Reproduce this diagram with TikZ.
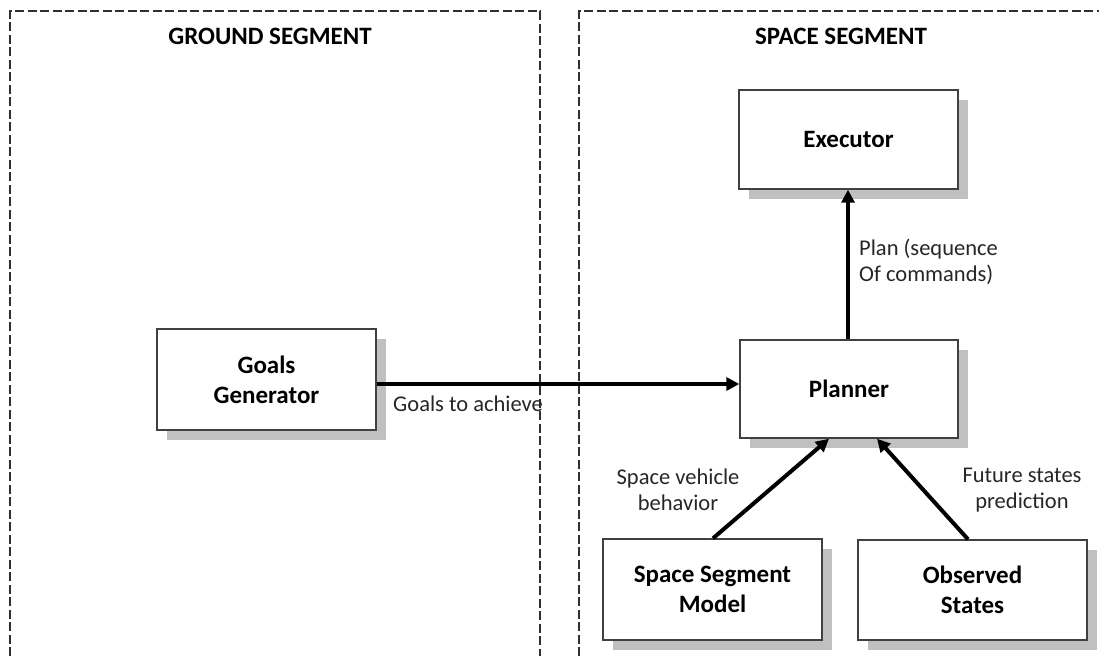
\documentclass[tikz,border=0pt]{standalone}
\usepackage{fontspec}
\setmainfont{Carlito}
\usetikzlibrary{arrows.meta,shadows}
\definecolor{boxline}{HTML}{404040}
\definecolor{shadowgray}{HTML}{C0C0C0}
\definecolor{labeltext}{HTML}{262626}
\definecolor{dashgray}{HTML}{303030}
\tikzset{
  blockbox/.style={draw=boxline, line width=1.4pt, fill=white, inner sep=0pt,
    align=center, font=\fontsize{25}{30}\selectfont\bfseries,
    drop shadow={shadow xshift=10pt, shadow yshift=-10pt, fill=shadowgray, opacity=1}},
  segtitle/.style={inner sep=0pt, font=\fontsize{25}{30}\selectfont\bfseries},
  edgelabel/.style={inner sep=0pt, text=labeltext, font=\fontsize{22.5}{26}\selectfont},
  segborder/.style={draw=dashgray, line width=1.3pt, dash pattern=on 9pt off 3.5pt},
  flow/.style={line width=4pt, -{Triangle[length=13pt,width=13pt]}}
}
\begin{document}
\begin{tikzpicture}[x=1pt,y=-1pt]
\useasboundingbox (0,0) rectangle (1099,656);
% segment frames
\coordinate (gbl) at (10,656);
\coordinate (gtl) at (10,11);
\coordinate (gtr) at (540,11);
\coordinate (gbr) at (540,656);
\coordinate (sbl) at (579,656);
\coordinate (stl) at (579,11);
\coordinate (str) at (1099,11);
\draw[segborder] (gbl) -- (gtl) -- (gtr) -- (gbr);
\draw[segborder] (sbl) -- (stl) -- (str);
\node[segtitle] (gtitle) at (270,36) {GROUND SEGMENT};
\node[segtitle] (stitle) at (841,36) {SPACE SEGMENT};
% blocks
\node[blockbox, minimum width=219pt, minimum height=99pt] (exe) at (848.5,139.5) {Executor};
\node[blockbox, minimum width=218pt, minimum height=98pt] (plan) at (849,389) {Planner};
\node[blockbox, minimum width=219pt, minimum height=101pt] (goals) at (266.5,379.5) {Goals\\Generator};
\node[blockbox, minimum width=219pt, minimum height=101pt] (ssm) at (712.5,589.5) {Space Segment\\Model};
\node[blockbox, minimum width=229pt, minimum height=100pt] (obs) at (972.5,590) {Observed\\States};
% connectors
\draw[flow] ([yshift=-4.5pt]goals.east) -- ([yshift=-4.5pt]goals.east -| plan.west);
\draw[flow] ([xshift=-1pt]plan.north) -- ([xshift=-1pt]plan.north |- exe.south);
\draw[flow] ([xshift=0.5pt]ssm.north) -- ([xshift=-20pt]plan.south);
\draw[flow] ([xshift=-4.5pt]obs.north) -- ([xshift=28pt]plan.south);
% labels
\node[edgelabel, anchor=west] (lgoals) at (393,404) {Goals to achieve};
\node[edgelabel, anchor=west, align=left] (lplan) at (859,261.5) {Plan (sequence\\Of commands)};
\node[edgelabel, align=center] (lssm) at (678,490) {Space vehicle\\behavior};
\node[edgelabel, align=center] (lobs) at (1022,490) {Future states\\prediction};
\end{tikzpicture}
\end{document}
